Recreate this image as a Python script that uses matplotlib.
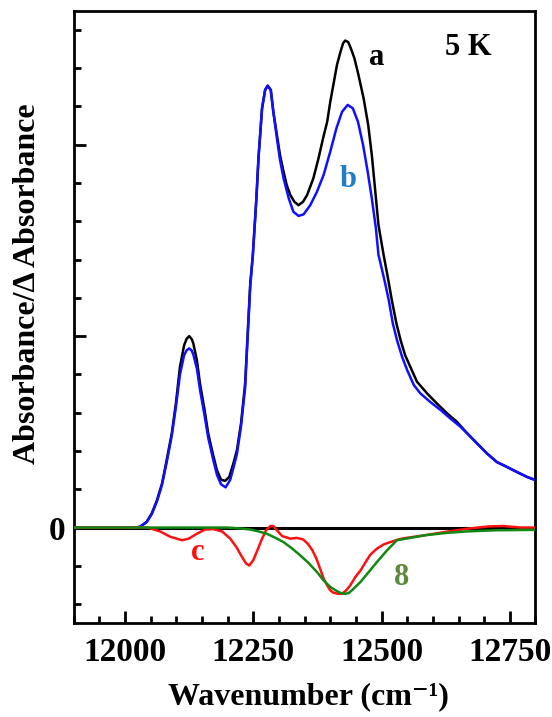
import matplotlib
matplotlib.use("Agg")
import matplotlib.pyplot as plt
from matplotlib.ticker import MultipleLocator, FixedLocator

plt.rcParams['font.family'] = ['Liberation Serif', 'DejaVu Serif']
plt.rcParams['font.weight'] = 'bold'

# Spectrum a: absorbance at 5 K
wn_a = [11900, 12000, 12020, 12029, 12042, 12052, 12062, 12072, 12081, 12091,
        12099, 12107, 12115, 12120, 12125, 12130, 12133, 12140, 12146, 12155,
        12162, 12171, 12179, 12187, 12195, 12203, 12211, 12218, 12226, 12234,
        12239, 12244, 12249, 12256, 12260, 12267, 12273, 12278, 12284, 12289,
        12296, 12302, 12309, 12315, 12322, 12330, 12338, 12347, 12355, 12367,
        12377, 12386, 12394, 12400, 12406, 12413, 12420, 12425, 12429, 12435,
        12440, 12447, 12455, 12465, 12474, 12481, 12488, 12494, 12504, 12512,
        12520, 12529, 12537, 12546, 12556, 12569, 12589, 12608, 12628, 12647,
        12667, 12686, 12706, 12725, 12745, 12764, 12784, 12800]
abs_a = [0.0, 0.0, 0.0, 0.02, 0.15, 0.37, 0.71, 1.15, 1.76, 2.46,
         3.24, 4.20, 4.76, 4.93, 5.00, 4.92, 4.81, 4.37, 3.76, 3.07,
         2.46, 1.93, 1.50, 1.25, 1.22, 1.32, 1.67, 2.02, 2.72, 3.76,
         5.07, 6.38, 7.12, 8.60, 9.64, 10.95, 11.43, 11.54, 11.43, 10.86,
         10.25, 9.73, 9.29, 8.95, 8.69, 8.51, 8.42, 8.51, 8.69, 9.12,
         9.64, 10.17, 10.60, 11.12, 11.56, 12.08, 12.43, 12.65, 12.72, 12.68,
         12.52, 12.26, 11.82, 11.21, 10.51, 9.73, 8.75, 7.90, 7.12, 6.55,
         5.94, 5.33, 4.90, 4.50, 4.20, 3.81, 3.50, 3.24, 2.98, 2.76,
         2.46, 2.20, 1.93, 1.71, 1.58, 1.45, 1.32, 1.24]

# Spectrum b
wn_b = [11900, 12000, 12020, 12029, 12042, 12052, 12062, 12072, 12081, 12091,
        12099, 12107, 12115, 12120, 12125, 12130, 12133, 12140, 12146, 12155,
        12162, 12171, 12179, 12187, 12196, 12205, 12211, 12218, 12226, 12234,
        12239, 12244, 12249, 12256, 12260, 12267, 12273, 12278, 12284, 12289,
        12296, 12302, 12309, 12319, 12328, 12338, 12348, 12361, 12374, 12387,
        12400, 12412, 12423, 12434, 12444, 12454, 12464, 12473, 12481, 12489,
        12494, 12498, 12507, 12514, 12522, 12530, 12540, 12550, 12563, 12576,
        12595, 12615, 12634, 12654, 12667, 12686, 12706, 12725, 12745, 12764,
        12784, 12800]
abs_b = [0.0, 0.0, 0.0, 0.02, 0.14, 0.35, 0.68, 1.12, 1.70, 2.40,
         3.15, 4.00, 4.50, 4.63, 4.68, 4.62, 4.52, 4.15, 3.60, 2.92,
         2.35, 1.82, 1.38, 1.13, 1.05, 1.25, 1.55, 1.92, 2.65, 3.65,
         5.00, 6.30, 7.10, 8.60, 9.64, 10.95, 11.43, 11.54, 11.43, 10.86,
         10.17, 9.60, 9.12, 8.60, 8.25, 8.14, 8.18, 8.42, 8.77, 9.21,
         9.82, 10.43, 10.86, 11.04, 10.95, 10.60, 9.99, 9.29, 8.60, 7.81,
         7.12, 6.90, 6.38, 5.94, 5.33, 4.90, 4.46, 4.11, 3.72, 3.50,
         3.28, 3.07, 2.85, 2.63, 2.46, 2.20, 1.93, 1.71, 1.58, 1.45,
         1.32, 1.24]

# Difference spectrum c
wn_c = [11900, 12043, 12049, 12068, 12088, 12111, 12124, 12140, 12156, 12172,
        12189, 12205, 12217, 12228, 12236, 12242, 12250, 12258, 12267, 12275,
        12283, 12289, 12296, 12306, 12322, 12335, 12347, 12356, 12365, 12373,
        12380, 12387, 12394, 12400, 12406, 12415, 12423, 12431, 12439, 12449,
        12459, 12469, 12478, 12491, 12504, 12517, 12533, 12543, 12585, 12626,
        12667, 12709, 12737, 12772, 12800]
dabs_c = [0.0, 0.0, -0.02, -0.10, -0.24, -0.33, -0.29, -0.16, -0.05, -0.04,
          -0.10, -0.29, -0.51, -0.77, -0.94, -0.99, -0.85, -0.59, -0.29, -0.07,
          0.04, 0.04, -0.07, -0.22, -0.29, -0.27, -0.31, -0.42, -0.59, -0.81,
          -1.07, -1.33, -1.51, -1.64, -1.70, -1.73, -1.73, -1.64, -1.51, -1.29,
          -1.12, -0.90, -0.71, -0.55, -0.44, -0.38, -0.31, -0.28, -0.20, -0.11,
          -0.03, 0.03, 0.04, 0.0, 0.0]

# Band 8
wn_8 = [11900, 12200, 12211, 12230, 12244, 12260, 12276, 12292, 12309, 12325,
        12341, 12358, 12374, 12387, 12400, 12413, 12421, 12429, 12436, 12442,
        12459, 12475, 12491, 12511, 12530, 12543, 12585, 12626, 12667, 12723,
        12800]
dabs_8 = [0.0, 0.0, -0.01, -0.03, -0.05, -0.10, -0.16, -0.26, -0.38, -0.54,
          -0.72, -0.93, -1.16, -1.38, -1.55, -1.66, -1.71, -1.73, -1.71, -1.64,
          -1.42, -1.16, -0.90, -0.59, -0.33, -0.30, -0.20, -0.14, -0.10, -0.07,
          -0.06]

x_major = [12000, 12250, 12500, 12750]
y_major = [0, 5, 10]
y_labels = ["0", "", ""]

fig = plt.figure(figsize=(5.52, 7.17), dpi=100)
ax = fig.add_axes([0.1337, 0.1307, 0.8363, 0.8544])

ax.axhline(0, color='black', lw=2.2, zorder=1)
ax.plot(wn_a, abs_a, color='black', lw=1.8, zorder=2, solid_joinstyle='round')
ax.plot(wn_b, abs_b, color='#1010ff', lw=1.8, zorder=3, solid_joinstyle='round')
ax.plot(wn_c, dabs_c, color='#ff1010', lw=1.8, zorder=4, solid_joinstyle='round')
ax.plot(wn_8, dabs_8, color='#118811', lw=1.8, zorder=5, solid_joinstyle='round')

ax.set_xlim(11900, 12800)
ax.set_ylim(-2.5, 13.5)

ax.xaxis.set_major_locator(FixedLocator(x_major))
ax.xaxis.set_minor_locator(MultipleLocator(50))
ax.set_yticks(y_major)
ax.set_yticklabels(y_labels)
ax.yaxis.set_minor_locator(MultipleLocator(1))

ax.tick_params(which='both', direction='in', top=False, right=False, width=2)
ax.tick_params(which='major', length=8.4, labelsize=24)
ax.tick_params(axis='x', which='major', pad=10)
ax.tick_params(axis='y', which='major', pad=6)
ax.tick_params(which='minor', length=4.8)
for lab in ax.get_xticklabels() + ax.get_yticklabels():
    lab.set_fontweight('bold')
for sp in ax.spines.values():
    sp.set_linewidth(2)

fig.text(0.558, 0.008, 'Wavenumber (cm\u207b\u00b9)', ha='center', va='bottom',
         fontsize=23, fontweight='bold')
fig.text(0.05, 0.605, 'Absorbance/\u0394 Absorbance', rotation=90, ha='center',
         va='center', fontsize=23, fontweight='bold')

ax.text(12669, 12.55, '5 K', fontsize=22, fontweight='bold', ha='center', va='center')
ax.text(12490, 12.29, 'a', fontsize=22, fontweight='bold', ha='center', va='center', color='black')
ax.text(12435, 9.08, 'b', fontsize=22, fontweight='bold', ha='center', va='center', color='#1e7fc8')
ax.text(12142, -0.65, 'c', fontsize=22, fontweight='bold', ha='center', va='center', color='#ff1010')
ax.text(12539, -1.30, '8', fontsize=22, fontweight='bold', ha='center', va='center', color='#5b8a3c')

fig.savefig('out.png', dpi=100)
